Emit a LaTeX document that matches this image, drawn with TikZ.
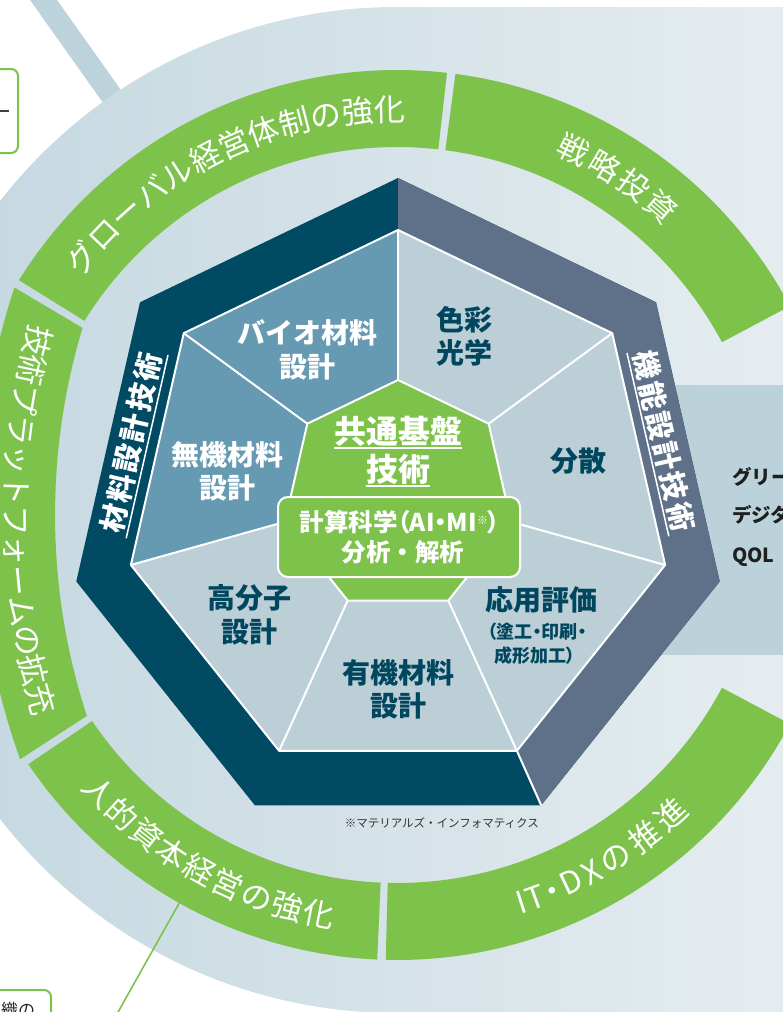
\documentclass[tikz,border=0pt]{standalone}
\usepackage{fontspec}
\newfontfamily\jp{Noto Sans CJK JP}
\usetikzlibrary{calc}
\definecolor{grn}{HTML}{7DC24B}
\definecolor{navy}{HTML}{004A64}
\definecolor{slate}{HTML}{5F7189}
\definecolor{midblue}{HTML}{6699B2}
\definecolor{lightseg}{HTML}{BCCFD6}
\definecolor{txtnavy}{HTML}{00465F}
\definecolor{bgL}{HTML}{C2D6DF}
\definecolor{bgR}{HTML}{E6EDF0}
\definecolor{beamc}{HTML}{BDD3DC}
\definecolor{rectc}{HTML}{BCD2DA}
\newcommand\ringseg[2]{\fill[grn] ({397+368*cos(#1)},{-515+368*sin(#1)}) arc[start angle=#1, end angle=#2, radius=368] -- ({397+445*cos(#2)},{-515+445*sin(#2)}) arc[start angle=#2, end angle=#1, radius=445] -- cycle;}
\newcommand\pdot{{\addfontfeature{RawFeature=+palt}・}}
\newcommand\pparen[1]{{\addfontfeature{RawFeature=+palt}#1}}
\begin{document}
\begin{tikzpicture}[x=1pt,y=1pt,
  segw/.style={font=\jp\bfseries\fontsize{28}{28}\selectfont, text=white, inner sep=0, text height=24.6pt, text depth=3.4pt},
  segd/.style={segw, text=txtnavy},
  segs/.style={font=\jp\bfseries\fontsize{18}{18}\selectfont, text=txtnavy, inner sep=0, text height=15.8pt, text depth=2.2pt},
  head/.style={font=\jp\bfseries\fontsize{32}{32}\selectfont, text=white, inner sep=0, text height=28.2pt, text depth=3.8pt},
  calct/.style={font=\jp\bfseries\fontsize{24.5}{24.5}\selectfont, text=white, inner sep=0, text height=21.6pt, text depth=2.9pt},
  arct/.style={font=\jp\fontsize{31}{31}\selectfont, text=white, inner sep=0, text height=27.3pt, text depth=3.7pt},
  bandt/.style={font=\jp\bfseries\fontsize{28.5}{28.5}\selectfont, text=white, inner sep=0, text height=25.1pt, text depth=3.4pt},
  rtext/.style={font=\jp\bfseries\fontsize{19.5}{19.5}\selectfont, text=black!88, inner sep=0, anchor=west, text height=17.2pt, text depth=2.3pt},
  greenbox/.style={draw=grn, line width=2, rounded corners=7, fill=white, inner sep=0},
  wline/.style={white, line width=2, line join=round}
]
\useasboundingbox (0,0) rectangle (782,-1012);
% diagonal beam
\fill[beamc] (30,0) -- (57,0) -- (160,-145) -- (133,-145) -- cycle;
% background panel
\shade[left color=bgL, right color=bgR] (397,-7) arc[start angle=90, end angle=270, radius=503] -- (800,-1013) -- (800,-7) -- cycle;
% right band
\fill[rectc] (560,-385) rectangle (800,-655);
% green ring
\ringseg{83.55}{148.15}
\ringseg{28}{82.45}
\ringseg{214.05}{267.45}
\ringseg{268.55}{332}
% left (flatter) segment
\fill[grn] (82.5,-327.9) arc[start angle=163.3, end angle=197.98, radius=651] -- (20.1,-759.3) arc[start angle=199.6, end angle=161.78, radius=728] -- cycle;
% heptagon coordinates
\foreach \k in {0,...,6}{
  \coordinate (O\k) at ({398+330*cos(90+\k*360/7)},{-508+330*sin(90+\k*360/7)});
  \coordinate (I\k) at ({398+274*cos(90+\k*360/7)},{-504+274*sin(90+\k*360/7)});
  \coordinate (C\k) at ({398+116*cos(90+\k*360/7)},{-496+116*sin(90+\k*360/7)});
}
\fill[navy] (O0)--(O1)--(O2)--(O3)--(O4)--(O5)--(O6)--cycle;
\fill[slate] (O0)--(O6)--(O5)--(O4)--(I4)--(I5)--(I6)--(I0)--cycle;
\fill[lightseg] (I0)--(I1)--(I2)--(I3)--(I4)--(I5)--(I6)--cycle;
\fill[midblue] (I0)--(I1)--(C1)--(C0)--cycle;
\fill[midblue] (I1)--(I2)--(C2)--(C1)--cycle;
\draw[wline] (I0)--(I1)--(I2)--(I3)--(I4)--(I5)--(I6)--cycle;
\foreach \k in {0,...,6}{\draw[wline] (I\k)--(C\k);}
\draw[wline] (I4)--(O4);
\filldraw[fill=grn, draw=white, line width=2, line join=round] (C0)--(C1)--(C2)--(C3)--(C4)--(C5)--(C6)--cycle;
% central text
\node[head] (h1) at (398,-431) {共通基盤};
\node[head] (h2) at (398,-469) {技術};
\draw[white, line width=2] ([yshift=-4.5]h1.base west) -- ([yshift=-4.5]h1.base east);
\draw[white, line width=2] ([yshift=-5]h2.base west) -- ([yshift=-5]h2.base east);
\node[draw=white, line width=2, fill=grn, rounded corners=10, minimum width=242, minimum height=80, inner sep=0] (cbox) at (399,-537) {};
\node[calct] (ct1) at (400,-522.5) {計算科学\pparen{（}AI\pdot MI\raisebox{7pt}{\fontsize{11}{11}\selectfont ※}\pparen{）}};
\node[calct] (ct2) at (403,-552.5) {分析・解析};
% segment labels
\node[segw] (s1a) at (307,-333) {バイオ材料};
\node[segw] (s1b) at (307,-367) {設計};
\node[segw] (s2a) at (227,-455) {無機材料};
\node[segw] (s2b) at (227,-488) {設計};
\node[segd] (s3a) at (464,-320) {色彩};
\node[segd] (s3b) at (464,-353) {光学};
\node[segd] (s4) at (578,-461) {分散};
\node[segd] (s5a) at (249,-598) {高分子};
\node[segd] (s5b) at (249,-632) {設計};
\node[segd] (s6a) at (398,-673) {有機材料};
\node[segd] (s6b) at (398,-706) {設計};
\node[segd] (s7a) at (541,-600) {応用評価};
\node[segs] (s7b) at (537,-632) {\pparen{（}塗工\pdot 印刷\pdot};
\node[segs] (s7c) at (535,-656) {成形加工\pparen{）}};
% band labels
\begin{scope}[shift={(131,-443)}, rotate=77.14]
  \foreach \ch [count=\i] in {材,料,設,計,技,術}{\node[bandt, transform shape] (m\i) at ({(\i-3.5)*31},0) {\ch};}
  \draw[white, line width=1.5] (-94,-16.5) -- (94,-16.5);
\end{scope}
\begin{scope}[shift={(664,-441)}, rotate=-77.14]
  \foreach \ch [count=\i] in {機,能,設,計,技,術}{\node[bandt, transform shape] (f\i) at ({(\i-3.5)*31},0) {\ch};}
  \draw[white, line width=1.5] (-94,-16.5) -- (94,-16.5);
\end{scope}
% arc labels
\foreach \ch [count=\i] in {グ,ロ,ー,バ,ル,経,営,体,制,の,強,化}{
  \pgfmathsetmacro\a{140.8-(\i-1)*4.52}
  \node[arct, rotate=\a-90] (ga\i) at ({397+406*cos(\a)},{-515+406*sin(\a)}) {\ch};
}
\foreach \ch [count=\i] in {戦,略,投,資}{
  \pgfmathsetmacro\a{64.2-(\i-1)*4.94}
  \node[arct, rotate=\a-90] (sa\i) at ({397+406*cos(\a)},{-515+406*sin(\a)}) {\ch};
}
\foreach \ch [count=\i] in {技,術,プ,ラ,ッ,ト,フ,ォ,ー,ム,の,拡,充}{
  \pgfmathsetmacro\a{165.4+(\i-1)*2.51}
  \node[arct, rotate=\a+90] (ta\i) at ({706+690*cos(\a)},{-515+690*sin(\a)}) {\ch};
}
\foreach \ch [count=\i] in {人,的,資,本,経,営,の,強,化}{
  \pgfmathsetmacro\a{222.9+(\i-1)*4.5}
  \node[arct, rotate=\a+90] (ha\i) at ({397+406*cos(\a)},{-515+406*sin(\a)}) {\ch};
}
\foreach \ch/\a [count=\i] in {I/-72.2, T/-70.16, \pdot/-67.55, D/-64.6, X/-61.4, の/-57.45, 推/-52.5, 進/-47.6}{
  \node[arct, rotate=\a+90] (da\i) at ({397+406*cos(\a)},{-515+406*sin(\a)}) {\ch};
}
% footnote
\node[font=\jp\fontsize{11.5}{11.5}\selectfont, text=black!80, inner sep=0, anchor=east] (fn) at (539,-823) {※マテリアルズ・インフォマティクス};
% right texts
\node[rtext] (r1) at (732,-477) {グリー};
\node[rtext] (r2) at (732,-515) {デジタ};
\node[rtext] (r3) at (732,-555) {QOL};
% side boxes
\node[greenbox, minimum width=38, minimum height=84] (boxTL) at (-1,-111) {};
\draw[black!75, line width=1.2] (0,-111) -- (9,-111);
\node[greenbox, minimum width=71, minimum height=60] (boxBL) at (15.5,-1020) {};
\node[font=\jp\fontsize{17}{17}\selectfont, inner sep=0, anchor=base west, text=black!85] (bt) at (1,-1016) {織の};
% connector
\coordinate (L1) at ({397+445*cos(240.7)},{-515+445*sin(240.7)});
\coordinate (L2) at ({397+590*cos(240.7)},{-515+590*sin(240.7)});
\draw[grn, line width=1.6] (L1) -- (L2);
\end{tikzpicture}
\end{document}
